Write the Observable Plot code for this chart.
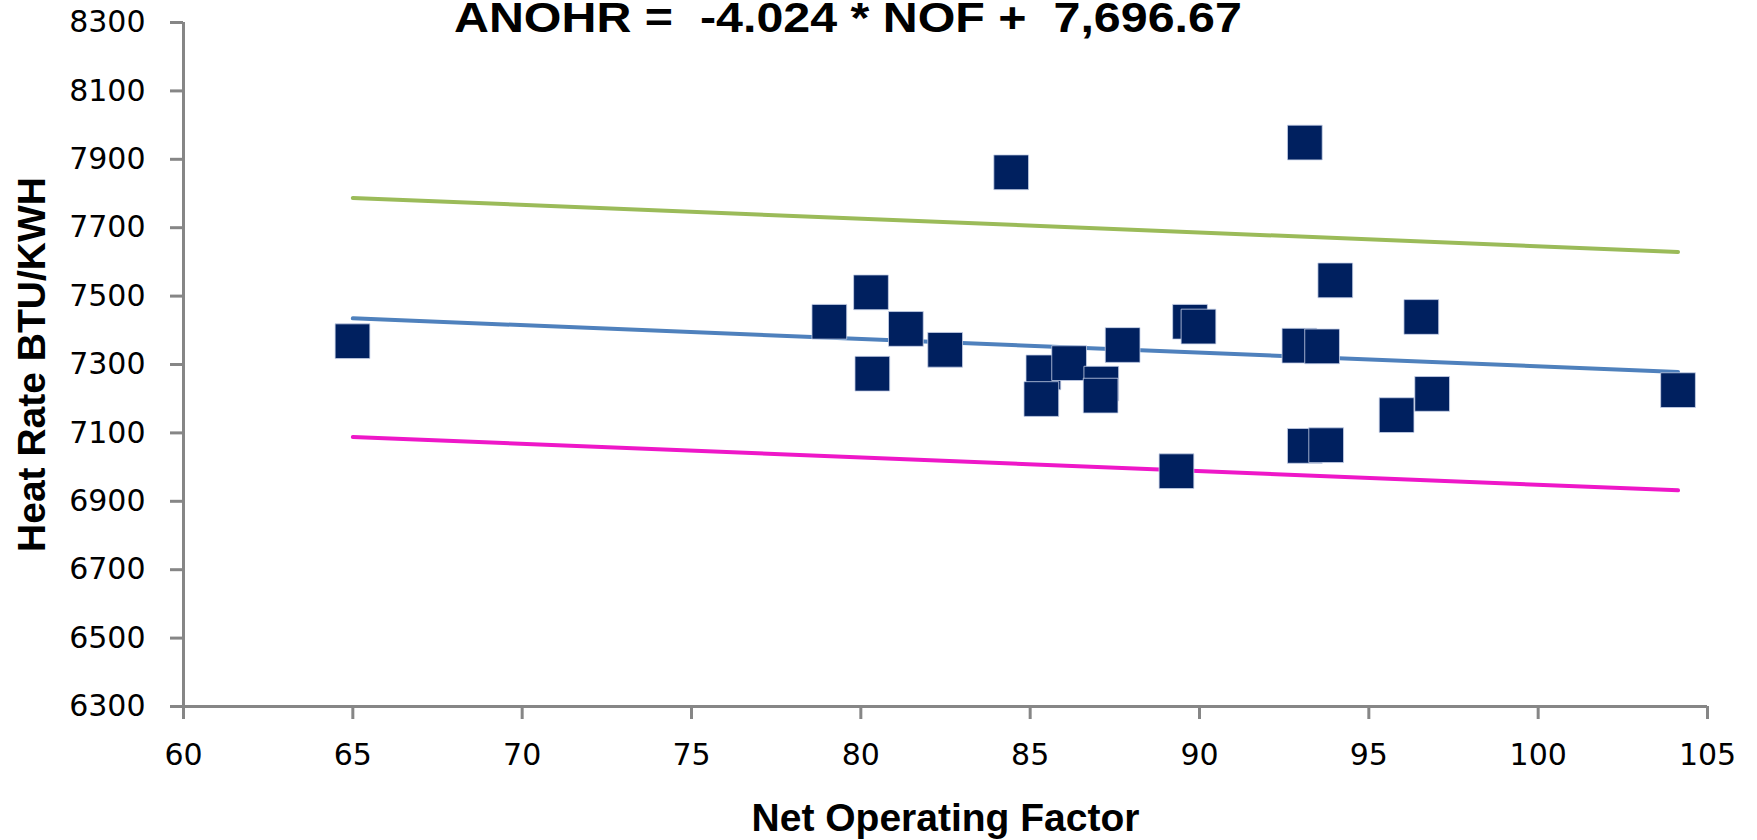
<!DOCTYPE html>
<html>
<head>
<meta charset="utf-8">
<script src="https://cdn.jsdelivr.net/npm/d3@7"></script>
<script src="https://cdn.jsdelivr.net/npm/@observablehq/plot@0.6"></script>
<style>
  html, body { margin: 0; padding: 0; background: #fff; }
  #wrap { position: relative; width: 1757px; height: 840px; overflow: hidden; }
  #title {
    position: absolute; left: 454px; top: -4px; z-index: 2;
    font: bold 43px "Liberation Sans", Arial, sans-serif; line-height: 1;
    white-space: pre; color: #000;
    transform: scaleX(1.125); transform-origin: 0 0;
  }
</style>
</head>
<body>
<div id="wrap"></div>
<script>
// ---- chart text ----
const titleText = "ANOHR =  -4.024 * NOF +  7,696.67";
const xLabel = "Net Operating Factor";
const yLabel = "Heat Rate BTU/KWH";

// ---- tick values ----
const xTicks = [60, 65, 70, 75, 80, 85, 90, 95, 100, 105];
const yTicks = [6300, 6500, 6700, 6900, 7100, 7300, 7500, 7700, 7900, 8100, 8300];

// ---- scatter data (Net Operating Factor vs Heat Rate) ----
const nof = [64.99, 79.07, 80.30, 80.34, 81.33, 82.49, 84.44, 85.39, 85.33, 86.15,
             87.10, 87.08, 87.73, 89.32, 89.72, 89.97, 93.11, 92.95, 93.62, 93.11,
             93.74, 94.01, 95.82, 96.55, 96.87, 104.13];
const heatRate = [7368, 7425, 7511, 7273, 7404, 7343, 7862, 7277, 7199, 7304,
                  7244, 7209, 7357, 6988, 7425, 7411, 7949, 7355, 7353, 7062,
                  7064, 7546, 7152, 7439, 7214, 7225];

// ---- fitted line and limits (end points) ----
const fitX = [65, 104.13];
const fitMid = [7435, 7278];
const fitUpper = [7787, 7629];
const fitLower = [7088, 6932];

const points = nof.map((x, i) => ({x, y: heatRate[i]}));
const lineData = (ys) => fitX.map((x, i) => ({x, y: ys[i]}));

const axisGray = "#868686";

const chart = Plot.plot({
  width: 1757,
  height: 840,
  marginLeft: 183,
  marginRight: 50,
  marginTop: 22,
  marginBottom: 134,
  style: { fontFamily: "'DejaVu Sans', sans-serif", fontSize: "30px", color: "#000", background: "#fff" },
  x: { domain: [60, 105] },
  y: { domain: [6300, 8300] },
  marks: [
    Plot.axisY({ ticks: yTicks, tickSize: 13, tickPadding: 25, stroke: axisGray, strokeWidth: 3,
                 fill: "#000", fontSize: 30, label: null, tickFormat: d => String(d) }),
    Plot.axisX({ ticks: xTicks, tickSize: 13, tickPadding: 24, stroke: axisGray, strokeWidth: 3,
                 fill: "#000", fontSize: 30, label: null, tickFormat: d => String(d) }),
    Plot.ruleX([60], { stroke: axisGray, strokeWidth: 3 }),
    Plot.ruleY([6300], { stroke: axisGray, strokeWidth: 3 }),
    Plot.line(lineData(fitUpper), { x: "x", y: "y", stroke: "#9BBB59", strokeWidth: 4, strokeLinecap: "round" }),
    Plot.line(lineData(fitMid), { x: "x", y: "y", stroke: "#4F81BD", strokeWidth: 4, strokeLinecap: "round" }),
    Plot.line(lineData(fitLower), { x: "x", y: "y", stroke: "#EE17C8", strokeWidth: 4, strokeLinecap: "round" }),
    Plot.dot(points, { x: "x", y: "y", symbol: "square", r: 19.6, fill: "#00205F", stroke: "#c8d2e8", strokeWidth: 0.8 }),
    Plot.text([xLabel], { frameAnchor: "bottom", dy: 124, lineAnchor: "bottom", textAnchor: "middle",
                          fontFamily: "'Liberation Sans', Arial, sans-serif", fontWeight: "bold", fontSize: 39, fill: "#000" }),
    Plot.text([yLabel], { frameAnchor: "left", dx: -166, rotate: -90, lineAnchor: "top", textAnchor: "middle",
                          fontFamily: "'Liberation Sans', Arial, sans-serif", fontWeight: "bold", fontSize: 39, fill: "#000" })
  ]
});

const wrap = document.getElementById("wrap");
wrap.appendChild(chart);
const t = document.createElement("div");
t.id = "title";
t.textContent = titleText;
wrap.appendChild(t);
</script>
</body>
</html>
